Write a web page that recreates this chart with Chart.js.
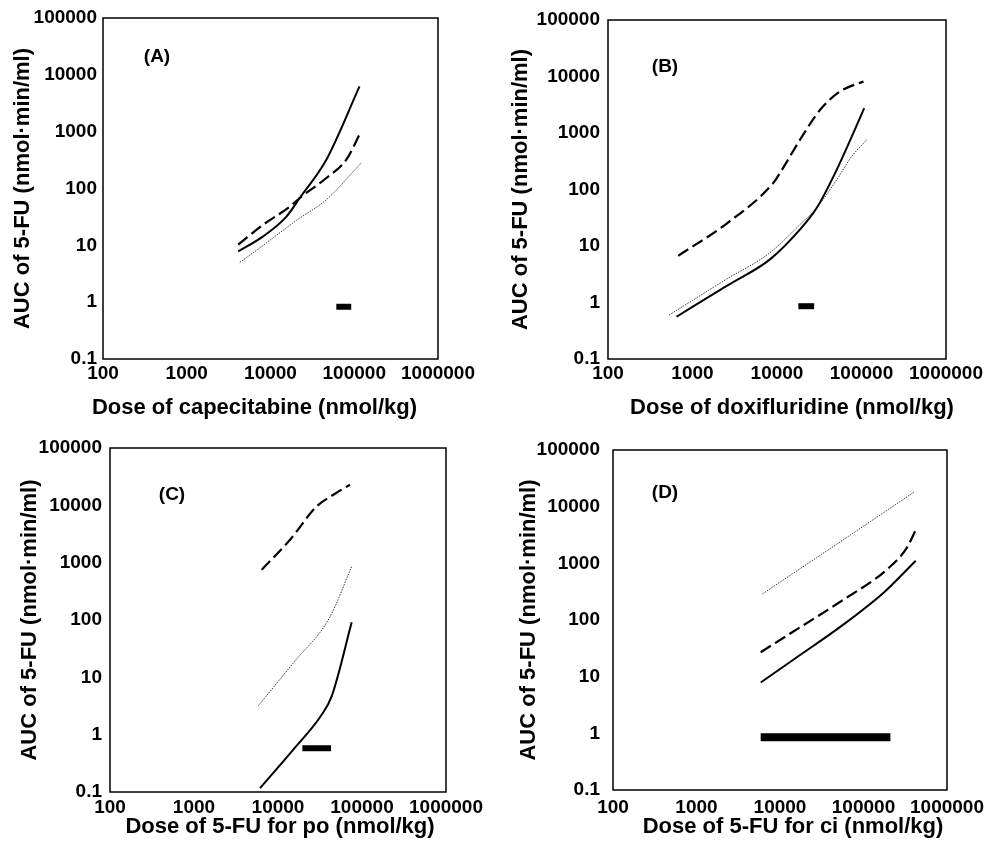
<!DOCTYPE html>
<html>
<head>
<meta charset="utf-8">
<script src="https://cdn.jsdelivr.net/npm/chart.js@4.4.0/dist/chart.umd.min.js"></script>
<style>
    body { margin: 0; background: #fff; }
    #wrap { position: relative; width: 1004px; height: 850px; }
    #wrap canvas { position: absolute; }
</style>
</head>
<body>
<div id="wrap">
    <canvas id="panel_a" width="502" height="425" style="left:0;top:0"></canvas>
    <canvas id="panel_b" width="502" height="425" style="left:502px;top:0"></canvas>
    <canvas id="panel_c" width="502" height="425" style="left:0;top:425px"></canvas>
    <canvas id="panel_d" width="502" height="425" style="left:502px;top:425px"></canvas>
</div>
<script>
var xTicks = [100, 1000, 10000, 100000, 1000000];
var yTicks = [0.1, 1, 10, 100, 1000, 10000, 100000];
var yTitle = 'AUC of 5-FU (nmol\u00b7min/ml)';

//(A) capecitabine
var capeSolidDose = [4110, 8170, 15500, 22300, 46400, 115600];
var capeSolidAuc  = [7.8, 14.4, 32, 68, 321, 6250];
var capeDashDose  = [4110, 8170, 17000, 22300, 46400, 80300, 115600];
var capeDashAuc   = [10.3, 23, 48, 68, 153, 321, 885];
var capeDotDose   = [4300, 8170, 20400, 46400, 121000];
var capeDotAuc    = [5.0, 10, 27.5, 63.5, 281];
var capeBarDose   = [61100, 92000];
var capeBarAuc    = [0.83, 0.83];

//(B) doxifluridine
var doxSolidDose = [647, 2540, 8260, 18750, 29600, 51000, 76900, 107700];
var doxSolidAuc  = [0.56, 1.97, 5.8, 19.7, 47.5, 225, 870, 2760];
var doxDashDose  = [676, 2540, 9060, 10870, 18750, 32400, 55800, 105700];
var doxDashAuc   = [6.7, 25, 131, 197, 762, 2580, 5430, 8170];
var doxDotDose   = [528, 2540, 8260, 18750, 29600, 51000, 76900, 115800];
var doxDotAuc    = [0.6, 2.6, 7.6, 24, 47.5, 150, 387, 762];
var doxBarDose   = [17900, 27500];
var doxBarAuc    = [0.86, 0.86];

//(C) 5-FU po
var poSolidDose = [6110, 15200, 33100, 43500, 75400];
var poSolidAuc  = [0.117, 0.55, 2.23, 4.66, 91];
var poDashDose  = [6400, 13900, 28900, 45600, 71900];
var poDashAuc   = [754, 2510, 9600, 15300, 22900];
var poDotDose   = [5840, 15200, 40800, 75400];
var poDotAuc    = [3.2, 17.8, 108, 860];
var poBarDose   = [19500, 42800];
var poBarAuc    = [0.58, 0.58];

//(D) 5-FU ci
var ciSolidDose = [5870, 14300, 56700, 179500, 422000];
var ciSolidAuc  = [7.9, 19.7, 82, 316, 1110];
var ciDashDose  = [5870, 14300, 56700, 188000, 327000, 422000];
var ciDashAuc   = [27, 62, 225, 762, 1840, 3870];
var ciDotDose   = [6150, 56700, 410000];
var ciDotAuc    = [288, 2580, 18400];
var ciBarDose   = [5870, 210000];
var ciBarAuc    = [0.85, 0.85];

var fontFamily = '"Liberation Sans", Arial, Helvetica, sans-serif';
Chart.defaults.font.family = fontFamily;
Chart.defaults.font.weight = 'bold';
Chart.defaults.color = '#000';

function pts(xs, ys) {
    return xs.map(function (x, i) { return {x: x, y: ys[i]}; });
}

function solid(xs, ys) {
    return {data: pts(xs, ys), borderColor: '#000', borderWidth: 2,
        pointRadius: 0, cubicInterpolationMode: 'monotone'};
}
function dashed(xs, ys) {
    return {data: pts(xs, ys), borderColor: '#000', borderWidth: 2.2, borderDash: [12, 5],
        pointRadius: 0, cubicInterpolationMode: 'monotone'};
}
function dotted(xs, ys) {
    return {data: pts(xs, ys), borderColor: '#3a3a3a', borderWidth: 1, borderDash: [1.5, 1.2],
        pointRadius: 0, cubicInterpolationMode: 'monotone'};
}
function bar(xs, ys, w) {
    return {data: pts(xs, ys), borderColor: '#000', borderWidth: w, borderCapStyle: 'butt',
        pointRadius: 0};
}

// frame round the plot, panel letter and x axis title
var panelDecor = {
    id: 'panelDecor',
    afterDraw: function (chart, args, opts) {
        var ctx = chart.ctx, a = chart.chartArea;
        ctx.save();
        ctx.strokeStyle = '#000';
        ctx.lineWidth = 1.5;
        ctx.strokeRect(a.left, a.top, a.right - a.left, a.bottom - a.top);
        ctx.fillStyle = '#000';
        ctx.textAlign = 'center';
        ctx.textBaseline = 'middle';
        ctx.font = 'bold 19px ' + fontFamily;
        ctx.fillText(opts.label, a.left + opts.labelDx, a.top + opts.labelDy);
        ctx.font = 'bold 22px ' + fontFamily;
        ctx.fillText(opts.xTitle, (a.left + a.right) / 2 + opts.titleDx, a.bottom + opts.titleDy);
        ctx.restore();
    }
};

function makePanel(id, datasets, decor, box) {
    var ctx = document.getElementById(id).getContext('2d');
    return new Chart(ctx, {
        type: 'line',
        data: {datasets: datasets},
        plugins: [panelDecor],
        options: {
            responsive: false,
            animation: false,
            layout: {padding: {top: box.top, right: box.right, left: 0, bottom: 0}},
            plugins: {
                legend: {display: false},
                tooltip: {enabled: false},
                panelDecor: decor
            },
            scales: {
                x: {
                    type: 'logarithmic', min: 100, max: 1000000,
                    grid: {display: false, drawTicks: false}, border: {display: false},
                    afterBuildTicks: function (s) { s.ticks = xTicks.map(function (v) { return {value: v}; }); },
                    afterFit: function (s) {
                        s.height = box.xHeight;
                        s.paddingLeft = s.paddingRight = 0;
                    },
                    ticks: {
                        font: {size: 19}, padding: box.xTickPad,
                        autoSkip: false, maxRotation: 0, minRotation: 0,
                        callback: function (v) { return String(v); }
                    }
                },
                y: {
                    type: 'logarithmic', min: 0.1, max: 100000,
                    grid: {display: false, drawTicks: false}, border: {display: false},
                    afterBuildTicks: function (s) { s.ticks = yTicks.map(function (v) { return {value: v}; }); },
                    afterFit: function (s) {
                        s.width = box.yWidth;
                        s.paddingTop = s.paddingBottom = 0;
                    },
                    ticks: {
                        font: {size: 19}, padding: box.yTickPad,
                        callback: function (v) { return String(v); }
                    },
                    title: {display: true, text: yTitle, font: {size: 22}, padding: {top: box.yTitlePad}}
                }
            }
        }
    });
}

//PANEL A
makePanel('panel_a', [
    solid(capeSolidDose, capeSolidAuc),
    dashed(capeDashDose, capeDashAuc),
    dotted(capeDotDose, capeDotAuc),
    bar(capeBarDose, capeBarAuc, 6)
], {label: '(A)', labelDx: 54, labelDy: 39, xTitle: 'Dose of capecitabine (nmol/kg)', titleDx: -16, titleDy: 49},
   {top: 18, right: 64, yWidth: 103, xHeight: 66, xTickPad: 3, yTickPad: 6, yTitlePad: 10});

//PANEL B
makePanel('panel_b', [
    solid(doxSolidDose, doxSolidAuc),
    dashed(doxDashDose, doxDashAuc),
    dotted(doxDotDose, doxDotAuc),
    bar(doxBarDose, doxBarAuc, 6)
], {label: '(B)', labelDx: 57, labelDy: 47, xTitle: 'Dose of doxifluridine (nmol/kg)', titleDx: 15, titleDy: 49},
   {top: 20, right: 58, yWidth: 106, xHeight: 66, xTickPad: 3, yTickPad: 8, yTitlePad: 6});

//PANEL C
makePanel('panel_c', [
    solid(poSolidDose, poSolidAuc),
    dashed(poDashDose, poDashAuc),
    dotted(poDotDose, poDotAuc),
    bar(poBarDose, poBarAuc, 6)
], {label: '(C)', labelDx: 62, labelDy: 47, xTitle: 'Dose of 5-FU for po (nmol/kg)', titleDx: 2, titleDy: 35},
   {top: 23, right: 56, yWidth: 110, xHeight: 58, xTickPad: 4, yTickPad: 8, yTitlePad: 17});

//PANEL D
makePanel('panel_d', [
    solid(ciSolidDose, ciSolidAuc),
    dashed(ciDashDose, ciDashAuc),
    dotted(ciDotDose, ciDotAuc),
    bar(ciBarDose, ciBarAuc, 8)
], {label: '(D)', labelDx: 52, labelDy: 43, xTitle: 'Dose of 5-FU for ci (nmol/kg)', titleDx: 13, titleDy: 37},
   {top: 25, right: 57, yWidth: 111, xHeight: 60, xTickPad: 6, yTickPad: 13, yTitlePad: 14});
</script>
</body>
</html>
